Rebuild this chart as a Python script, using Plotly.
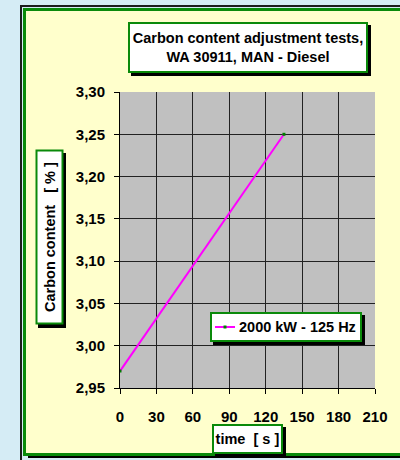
import plotly.graph_objects as go

# ---- data ----
time_s = [0, 135]
carbon = [2.97, 3.25]
series_name = "2000 kW - 125 Hz"
x_ticks = [0, 30, 60, 90, 120, 150, 180, 210]
y_ticks = [2.95, 3.00, 3.05, 3.10, 3.15, 3.20, 3.25, 3.30]
title_text = "Carbon content adjustment tests,<br>WA 30911, MAN - Diesel"
x_title = "time  [ s ]"
y_title = "Carbon content   [ % ]"

W, H = 400, 460
L, R, T, B = 120, 375, 92, 388
FONT = "Liberation Sans, Arial, sans-serif"
LINE_COLOR = "#ff00ff"
MARKER_COLOR = "#008000"
GREEN = "#0a8a0a"
BG = "#d5ecf5"


def px(X):
    return (X - L) / (R - L)


def py(Y):
    return (B - Y) / (B - T)


def rect(x0, y0, x1, y1, fill=None, line=None, lw=0, layer="below"):
    d = dict(type="rect", xref="paper", yref="paper",
             x0=px(x0), x1=px(x1), y0=py(y1), y1=py(y0), layer=layer,
             line=dict(width=lw, color=line or "rgba(0,0,0,0)"))
    if fill:
        d["fillcolor"] = fill
    return d


fig = go.Figure()
fig.add_trace(go.Scatter(
    x=time_s, y=carbon, mode="lines+markers", name=series_name,
    line=dict(color=LINE_COLOR, width=2),
    marker=dict(symbol="square", size=3, color=MARKER_COLOR),
    showlegend=False,
))

# legend box geometry (pixels)
LG_X0, LG_Y0, LG_X1, LG_Y1 = 210, 312, 362, 342
LG_MID = (LG_Y0 + LG_Y1) / 2

shapes = [
    rect(21, 6, 430, 480, fill=BG, line="#1c1c1c", lw=2),
    rect(28, 14, 430, 458, fill="#000000"),
    rect(24.5, 9.5, 420, 454.5, fill="#ffffcc", line=GREEN, lw=3),
    rect(L, T, R, B, fill="#c0c0c0"),
    # box shadows
    rect(131, 25, 371, 76, fill="#000000"),
    rect(38, 153, 66, 328, fill="#000000"),
    rect(215, 427, 286, 457, fill="#000000"),
    # legend
    rect(LG_X0 + 3, LG_Y0 + 3, LG_X1 + 3, LG_Y1 + 3, fill="#000000", layer="above"),
    rect(LG_X0 + 1, LG_Y0 + 1, LG_X1 - 1, LG_Y1 - 1, fill="#ffffff", line=GREEN, lw=2,
         layer="above"),
    dict(type="line", xref="paper", yref="paper", layer="above",
         x0=px(215), x1=px(235), y0=py(LG_MID), y1=py(LG_MID),
         line=dict(color=LINE_COLOR, width=2)),
    rect(223.5, LG_MID - 1.5, 226.5, LG_MID + 1.5, fill=MARKER_COLOR, layer="above"),
]

annotations = [
    dict(text="<b>" + title_text + "</b>", xref="paper", yref="paper",
         x=px(248), y=py(47.5), xanchor="center", yanchor="middle",
         showarrow=False, bgcolor="#ffffff", bordercolor=GREEN, borderwidth=2,
         borderpad=0, width=236, height=47,
         font=dict(family=FONT, size=14.5, color="#000000")),
    dict(text="<b>" + y_title.replace(" ", "&nbsp;") + "</b>", xref="paper", yref="paper",
         x=px(49), y=py(237.5), xanchor="center", yanchor="middle",
         textangle=-90, showarrow=False, bgcolor="#ffffff", bordercolor=GREEN,
         borderwidth=2, borderpad=0, width=171, height=24,
         font=dict(family=FONT, size=14.5, color="#000000")),
    dict(text="<b>" + x_title.replace(" ", "&nbsp;") + "</b>", xref="paper", yref="paper",
         x=px(247.5), y=py(439), xanchor="center", yanchor="middle",
         showarrow=False, bgcolor="#ffffff", bordercolor=GREEN, borderwidth=2,
         borderpad=0, width=67, height=26,
         font=dict(family=FONT, size=14.5, color="#000000")),
    dict(text="<b>" + series_name + "</b>", xref="paper", yref="paper",
         x=px(237), y=py(LG_MID), xanchor="left", yanchor="middle",
         showarrow=False,
         font=dict(family=FONT, size=14.5, color="#000000")),
]

axis_common = dict(
    showgrid=True, gridcolor="#222222", gridwidth=1,
    showline=True, linecolor="#000000", linewidth=1,
    ticks="outside", ticklen=5, tickcolor="#000000", tickwidth=1,
    zeroline=False, mirror=False,
    tickfont=dict(family=FONT, size=15, color="#000000", weight="bold"),
)

fig.update_layout(
    width=W, height=H,
    margin=dict(l=L, r=W - R, t=T, b=H - B, pad=0),
    paper_bgcolor=BG,
    plot_bgcolor="#c0c0c0",
    separators=",.",
    showlegend=False,
    shapes=shapes,
    annotations=annotations,
    xaxis=dict(range=[0, 210], tickvals=x_ticks, ticklabelstandoff=10, **axis_common),
    yaxis=dict(range=[2.95, 3.30], tickvals=y_ticks, tickformat=".2f",
               ticklabelstandoff=6, **axis_common),
)

fig.write_html("out.html",
               config={"displayModeBar": False},
               post_script="document.body.style.margin='0';"
                           "document.body.style.background='" + BG + "';")
